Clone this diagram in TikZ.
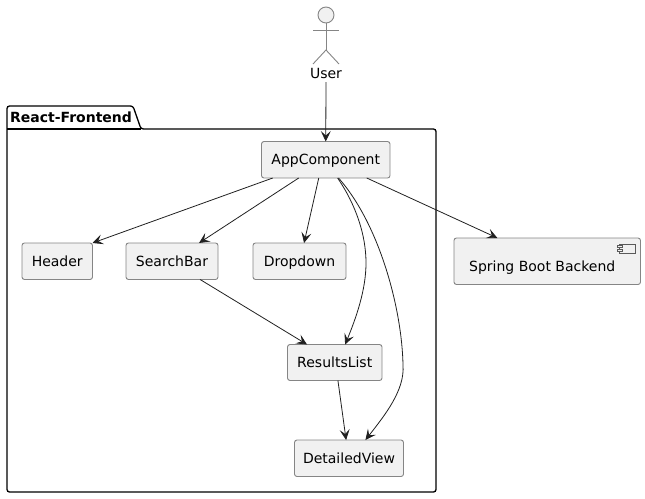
\documentclass[tikz,border=0pt]{standalone}
\usepackage{fontspec}
\setmainfont{DejaVu Sans}
\usetikzlibrary{arrows.meta}
\definecolor{boxfill}{HTML}{F1F1F1}
\definecolor{boxline}{HTML}{858585}
\definecolor{iconline}{HTML}{5A5A5A}
\definecolor{flowline}{HTML}{202020}
\tikzset{
compbox/.style={draw=boxline,fill=boxfill,rounded corners=2.5,line width=.9pt,inner sep=0,outer sep=0,text height=10.2pt,text depth=0pt},
flow/.style={draw=flowline,line width=.8pt,-{Stealth[length=10.5pt,width=10pt,inset=4.5pt]}},
packline/.style={draw=black,line width=1.3pt,rounded corners=2.5},
actorline/.style={draw=boxline,line width=.9pt}
}
\begin{document}
\begin{tikzpicture}[x=1pt,y=-1pt,font=\fontsize{14}{16}\selectfont]
\useasboundingbox (0,0) rectangle (645,498);
\draw[packline] (7,492)--(7,106)--(133,106)--(141,129)--(436,129)--(436,492)--cycle;
\draw[packline] (7,129)--(141,129);
\node[font=\fontsize{14}{16}\selectfont\bfseries,inner sep=0] (packlabel) at (71,117) {React-Frontend};
\node[circle,actorline,fill=boxfill,minimum size=16pt,inner sep=0] (userhead) at (326,15) {};
\coordinate (userhip) at (326,50);
\draw[actorline] (userhead.south)--(userhip);
\draw[actorline] (313,30)--(339,30);
\draw[actorline] (313,64)--(userhip)--(339,64);
\node[inner sep=0,minimum height=18pt] (user) at (326,73) {User};
\node[compbox,minimum width=128.5pt,minimum height=36.5pt] (app) at (325.75,159.75) {AppComponent};
\node[compbox,minimum width=70.5pt,minimum height=36.5pt] (header) at (57.25,261.25) {Header};
\node[compbox,minimum width=92pt,minimum height=36.5pt] (searchbar) at (172,261.25) {SearchBar};
\node[compbox,minimum width=93pt,minimum height=36.5pt] (dropdown) at (299.5,261.25) {Dropdown};
\node[compbox,minimum width=94.5pt,minimum height=36pt] (results) at (334.75,362.5) {ResultsList};
\node[compbox,minimum width=109pt,minimum height=36.5pt] (detail) at (349,458.25) {DetailedView};
\node[compbox,minimum width=186.5pt,minimum height=46.5pt] (backend) at (547.25,261.25) {\raisebox{-5pt}{Spring Boot Backend}\kern10pt};
\node[draw=iconline,line width=.6pt,fill=boxfill,minimum width=16pt,minimum height=9pt,inner sep=0] (icon) at (627.5,248.5) {};
\foreach \y in {246.5,250.5}
\draw[draw=iconline,line width=.6pt,fill=boxfill] (617.5,\y-1) rectangle (622,\y+1);
\foreach \a/\b in {user.south/app.north,app.199.8/header.north east,app.214.3/searchbar.34,app.249.7/dropdown.76,app.-24.9/backend.155.2,searchbar.-33/results.147,results.-80/detail.99.3}
\draw[flow] (\a)--(\b);
\coordinate (resultsbend) at (366,263);
\coordinate (detailbend) at (403,365);
\draw[flow] (app.303.9) .. controls (356,205) and (366,235) .. (resultsbend) .. controls (366,290) and (356,318) .. (results.60.3);
\draw[flow] (app.-55) .. controls (380,225) and (402,310) .. (detailbend) .. controls (405,390) and (385,415) .. (detail.48.8);
\end{tikzpicture}
\end{document}
